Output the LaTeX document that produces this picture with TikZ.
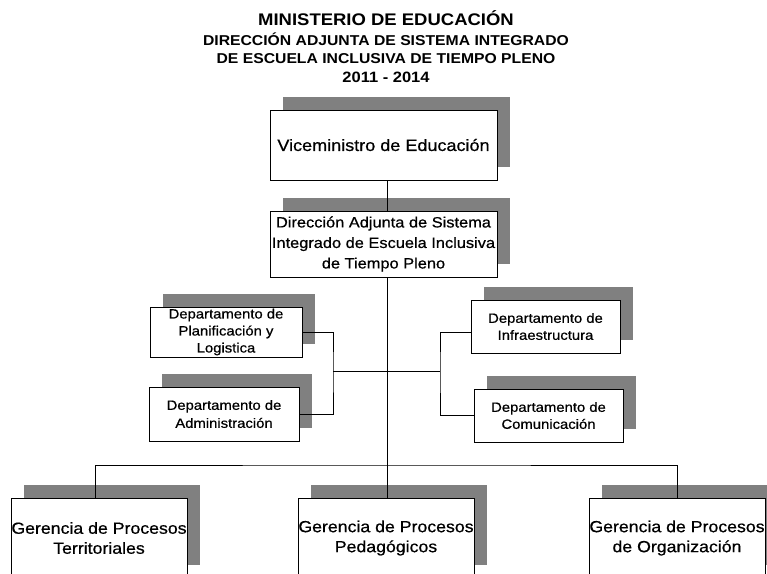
\documentclass[tikz,border=0pt]{standalone}
\usepackage{fontspec}
\setmainfont{Liberation Sans}[FakeStretch=1.1, UprightFeatures={FakeBold=0.6}]
\usetikzlibrary{shadows,calc}
\tikzset{
  orgbox/.style={draw=black, line width=0.8pt, fill=white, inner sep=0pt, align=center,
    drop shadow={shadow xshift=13pt, shadow yshift=13pt, opacity=1, fill=black!50}},
  link/.style={draw=black, line width=1pt},
  titletext/.style={anchor=base, inner sep=0pt, font=\bfseries}
}
\begin{document}
\begin{tikzpicture}[x=1pt,y=-1pt]
\useasboundingbox (0,0) rectangle (767,573);
\clip (0,0) rectangle (767,573);
% title
\node[titletext, font=\bfseries\fontsize{16.8}{18}\selectfont] (t1) at (386,25) {MINISTERIO DE EDUCACIÓN};
\node[titletext, font=\bfseries\fontsize{14.3}{16}\selectfont] (t2) at (386,45) {DIRECCIÓN ADJUNTA DE SISTEMA INTEGRADO};
\node[titletext, font=\bfseries\fontsize{14.3}{16}\selectfont] (t3) at (386,63) {DE ESCUELA INCLUSIVA DE TIEMPO PLENO};
\node[titletext, font=\bfseries\fontsize{15}{16}\selectfont] (t4) at (386,82) {2011 - 2014};
% boxes
\node[orgbox, minimum width=227pt, minimum height=70pt, font=\fontsize{16.4}{20}\selectfont] (vice) at (383.5,145) {Viceministro de Educación};
\node[orgbox, minimum width=227pt, minimum height=66pt, font=\fontsize{14.9}{20.5}\selectfont] (dir) at (383.5,244) {Dirección Adjunta de Sistema\\Integrado de Escuela Inclusiva\\de Tiempo Pleno};
\node[orgbox, minimum width=152pt, minimum height=50pt, font=\fontsize{13.5}{17}\selectfont] (plan) at (226,332) {Departamento de\\Planificación y\\Logistica};
\node[orgbox, minimum width=150pt, minimum height=54pt, font=\fontsize{13.5}{18}\selectfont] (admin) at (224,414) {Departamento de\\Administración};
\node[orgbox, minimum width=149pt, minimum height=53pt, font=\fontsize{13.5}{17}\selectfont] (infra) at (545.5,326.5) {Departamento de\\Infraestructura};
\node[orgbox, minimum width=149pt, minimum height=53pt, font=\fontsize{13.5}{17}\selectfont] (comun) at (548.5,415.5) {Departamento de\\Comunicación};
\node[orgbox, minimum width=176pt, minimum height=80pt, font=\fontsize{16.1}{20}\selectfont] (ter) at (99,538) {Gerencia de Procesos\\Territoriales};
\node[orgbox, minimum width=176pt, minimum height=80pt, font=\fontsize{16.1}{20}\selectfont] (ped) at (386,538) {Gerencia de Procesos\\Pedagógicos};
\node[orgbox, minimum width=176pt, minimum height=80pt, font=\fontsize{16.1}{20}\selectfont] (org) at (677,538) {Gerencia de Procesos\\de Organización};
% junctions
\coordinate (spine) at (387,0);
\coordinate (bar) at (387,465);
\coordinate (lj) at (333,371);
\coordinate (rj) at (440,371);
% connectors
\draw[link] (vice.south -| spine) -- (dir.north -| spine);
\draw[link] (dir.south -| spine) -- (bar);
\draw[link] (bar) -- (ped.north -| bar);
\draw[link] ([xshift=-4pt]ter.north) |- (bar) -| (org.north);
\draw[link] (plan.east) -| (lj) |- (admin.east);
\draw[link] (lj) -- (rj);
\draw[link] ([yshift=-6pt]infra.west) -| (rj) |- (comun.west);
\end{tikzpicture}
\end{document}
